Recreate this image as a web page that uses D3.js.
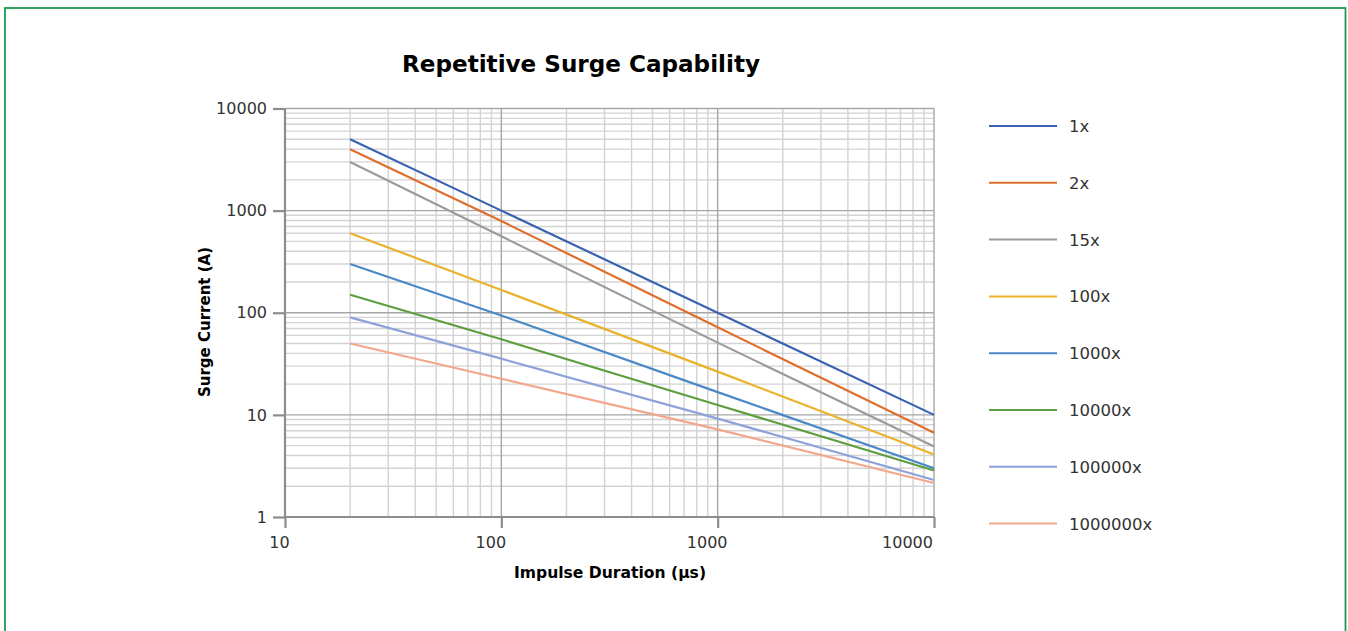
<!DOCTYPE html>
<html><head><meta charset="utf-8">
<script src="https://cdn.jsdelivr.net/npm/d3@7"></script>
<style>
html,body{margin:0;padding:0;background:#fff;}
svg{display:block;}
text{font-family:"DejaVu Sans","Liberation Sans",Arial,sans-serif;}
</style></head>
<body>
<svg id="chart" width="1348" height="631"></svg>
<script>
// ---- data ----
const durations = [20, 100, 1000, 10000];            // impulse duration (µs)
const seriesNames = ["1x","2x","15x","100x","1000x","10000x","100000x","1000000x"];
const s1x       = [5000, 1000, 100, 10];
const s2x       = [4000, 790, 72, 6.7];
const s15x      = [3000, 560, 51, 4.9];
const s100x     = [600, 167, 26.5, 4.1];
const s1000x    = [300, 94, 16.7, 3.0];
const s10000x   = [150, 55, 12.5, 2.85];
const s100000x  = [90, 35.5, 9.2, 2.3];
const s1000000x = [50, 22.6, 7.2, 2.15];
const seriesValues = [s1x,s2x,s15x,s100x,s1000x,s10000x,s100000x,s1000000x];
const colors = ["#3a62b1","#df6e2d","#9b9b9b","#e9b22b","#4a89c6","#5c9e40","#8ea2da","#f2a78c"];
const xTicks = [10, 100, 1000, 10000];
const yTicks = [1, 10, 100, 1000, 10000];

const svg = d3.select("#chart");
// frame
svg.append("rect").attr("x",5).attr("y",8).attr("width",1340.5).attr("height",700)
  .attr("fill","none").attr("stroke","#1e9a50").attr("stroke-width",1.8);

const x = d3.scaleLog().domain([10,10000]).range([285,934]);
const y = d3.scaleLog().domain([1,10000]).range([517,108.5]);

// minor grid
const minorX = [], minorY = [];
for (let d=10; d<10000; d*=10) for (let k=2;k<=9;k++) minorX.push(d*k);
for (let d=1; d<10000; d*=10) for (let k=2;k<=9;k++) minorY.push(d*k);
const g = svg.append("g");
g.selectAll(".mx").data(minorX).join("line")
  .attr("x1",d=>x(d)).attr("x2",d=>x(d)).attr("y1",y(10000)).attr("y2",y(1))
  .attr("stroke","#d3d3d3").attr("stroke-width",1.4);
g.selectAll(".my").data(minorY).join("line")
  .attr("y1",d=>y(d)).attr("y2",d=>y(d)).attr("x1",x(10)).attr("x2",x(10000))
  .attr("stroke","#d3d3d3").attr("stroke-width",1.4);
// major grid
g.selectAll(".Mx").data(xTicks.slice(1)).join("line")
  .attr("x1",d=>x(d)).attr("x2",d=>x(d)).attr("y1",y(10000)).attr("y2",y(1))
  .attr("stroke","#a6a6a6").attr("stroke-width",1.4);
g.selectAll(".My").data(yTicks.slice(1)).join("line")
  .attr("y1",d=>y(d)).attr("y2",d=>y(d)).attr("x1",x(10)).attr("x2",x(10000))
  .attr("stroke","#a6a6a6").attr("stroke-width",1.4);

// axes
const fmt = d3.format("d");
const yAxis = svg.append("g").attr("transform",`translate(${x(10)},0)`)
  .call(d3.axisLeft(y).tickValues(yTicks).tickFormat(fmt).tickSize(12).tickPadding(6));
const xAxis = svg.append("g").attr("transform",`translate(0,${y(1)})`)
  .call(d3.axisBottom(x).tickValues(xTicks).tickFormat(fmt).tickSize(11).tickPadding(9));
[xAxis,yAxis].forEach(a=>{
  a.select(".domain").attr("stroke","#8c8c8c").attr("stroke-width",2.2);
  a.selectAll(".tick line").attr("stroke","#8c8c8c").attr("stroke-width",2.2);
  a.selectAll(".tick text").attr("fill","#333").style("font-size","16px")
    .style("font-family","'DejaVu Sans',sans-serif");
});
const xLabelShift = [-6, -11, -11, -27];
xAxis.selectAll(".tick text").attr("dx",(d,i)=>xLabelShift[i]);
yAxis.select(".domain").attr("d",`M0,${y(10000)}V${y(1)}`);
xAxis.select(".domain").attr("d",`M${x(10)},0H${x(10000)}`);

// lines
const line = d3.line().x(d=>x(d[0])).y(d=>y(d[1]));
seriesValues.forEach((vals,i)=>{
  svg.append("path").datum(durations.map((t,j)=>[t,vals[j]]))
    .attr("d",line).attr("fill","none").attr("stroke",colors[i]).attr("stroke-width",2.2);
});

// titles
svg.append("text").attr("x",581).attr("y",72).attr("text-anchor","middle")
  .style("font-size","23px").style("font-weight","bold").attr("fill","#000")
  .attr("textLength",358).attr("lengthAdjust","spacingAndGlyphs")
  .text("Repetitive Surge Capability");
svg.append("text").attr("x",610).attr("y",578).attr("text-anchor","middle")
  .style("font-size","16px").style("font-weight","bold").attr("fill","#000")
  .attr("textLength",192).attr("lengthAdjust","spacingAndGlyphs")
  .text("Impulse Duration (µs)");
svg.append("text").attr("transform","translate(209.5,322) rotate(-90)").attr("text-anchor","middle")
  .style("font-size","16px").style("font-weight","bold").attr("fill","#000")
  .attr("textLength",150).attr("lengthAdjust","spacingAndGlyphs")
  .text("Surge Current (A)");

// legend
const leg = svg.append("g");
seriesNames.forEach((n,i)=>{
  const yy = 126 + i*56.8;
  leg.append("line").attr("x1",989).attr("x2",1057).attr("y1",yy).attr("y2",yy)
    .attr("stroke",colors[i]).attr("stroke-width",2);
  leg.append("text").attr("x",1069).attr("y",yy+6).style("font-size","16.5px")
    .attr("fill","#333").text(n);
});
</script>
</body></html>
